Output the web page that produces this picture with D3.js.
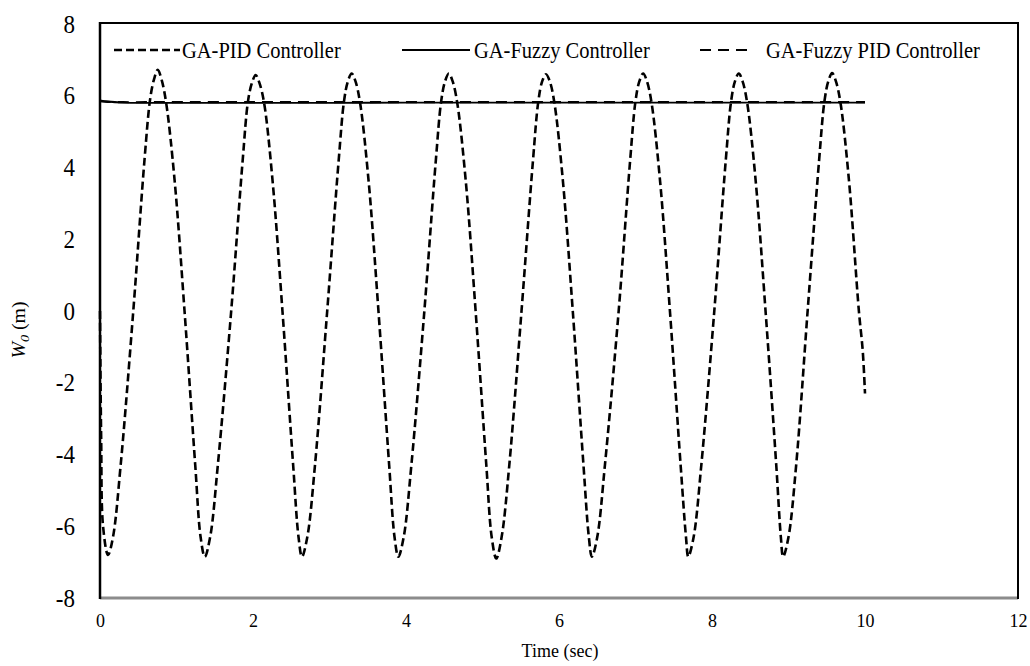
<!DOCTYPE html>
<html><head><meta charset="utf-8">
<script src="https://cdn.jsdelivr.net/npm/d3@7"></script>
<style>body{margin:0;background:#fff}svg{display:block}svg text{font-family:"Times New Roman","Liberation Serif",Times,serif !important;fill:#000}</style>
</head><body><svg id="c" width="1030" height="666"></svg>
<script>
// ---- data ----
const xTicks = [0, 2, 4, 6, 8, 10, 12];
const yTicks = [-8, -6, -4, -2, 0, 2, 4, 6, 8];
const seriesNames = ["GA-PID Controller", "GA-Fuzzy Controller", "GA-Fuzzy PID Controller"];
const pidTime = [0, 0.015, 0.04, 0.105,
  0.17, 0.27, 0.435, 0.585, 0.655, 0.705, 0.755, 0.805, 0.865, 0.975, 1.105, 1.245, 1.315,
  1.37, 1.44, 1.54, 1.715, 1.865, 1.935, 1.985, 2.035, 2.085, 2.145, 2.255, 2.385, 2.525, 2.595,
  2.64, 2.71, 2.81, 2.97, 3.12, 3.19, 3.24, 3.29, 3.34, 3.40, 3.51, 3.64, 3.78, 3.85,
  3.90, 3.97, 4.07, 4.24, 4.39, 4.46, 4.51, 4.56, 4.61, 4.67, 4.78, 4.91, 5.05, 5.12,
  5.18, 5.25, 5.35, 5.51, 5.66, 5.73, 5.78, 5.83, 5.88, 5.94, 6.05, 6.18, 6.32, 6.39,
  6.43, 6.50, 6.60, 6.78, 6.93, 7.00, 7.05, 7.10, 7.15, 7.21, 7.32, 7.45, 7.59, 7.66,
  7.69, 7.76, 7.86, 8.03, 8.18, 8.25, 8.30, 8.35, 8.40, 8.46, 8.57, 8.70, 8.84, 8.90,
  8.93, 9.00, 9.10, 9.25, 9.40, 9.47, 9.52, 9.57, 9.62, 9.68, 9.79, 9.92, 9.97, 10.0];
const pidValue = [0, -3.5, -6.0, -6.8,
  -6.3, -4.3, 0, 4.3, 5.9, 6.45, 6.72, 6.45, 5.8, 3.65, 0, -4.3, -6.3,
  -6.85, -6.3, -4.3, 0, 4.2, 5.85, 6.35, 6.58, 6.35, 5.8, 3.65, 0, -4.3, -6.3,
  -6.85, -6.3, -4.3, 0, 4.2, 5.85, 6.4, 6.62, 6.4, 5.8, 3.65, 0, -4.3, -6.3,
  -6.85, -6.3, -4.3, 0, 4.2, 5.85, 6.4, 6.62, 6.4, 5.8, 3.65, 0, -4.3, -6.3,
  -6.9, -6.3, -4.3, 0, 4.2, 5.85, 6.4, 6.6, 6.4, 5.8, 3.65, 0, -4.3, -6.3,
  -6.85, -6.3, -4.3, 0, 4.2, 5.85, 6.4, 6.62, 6.4, 5.8, 3.65, 0, -4.3, -6.3,
  -6.85, -6.3, -4.3, 0, 4.2, 5.85, 6.4, 6.62, 6.4, 5.8, 3.65, 0, -4.3, -6.3,
  -6.85, -6.3, -4.3, 0, 4.2, 5.85, 6.4, 6.63, 6.4, 5.8, 3.65, 0, -1.1, -2.3];
const fuzzyTime = [0, 0.1, 0.3, 0.6, 1, 2, 3, 4, 5, 6, 7, 8, 9, 10];
const fuzzyValue = [5.87, 5.84, 5.81, 5.80, 5.80, 5.80, 5.80, 5.81, 5.81, 5.81, 5.81, 5.81, 5.81, 5.81];
const fuzzyPidTime = [0, 0.1, 0.3, 0.6, 1, 2, 3, 4, 5, 6, 7, 8, 9, 10];
const fuzzyPidValue = [5.85, 5.83, 5.82, 5.82, 5.82, 5.82, 5.82, 5.82, 5.82, 5.82, 5.82, 5.82, 5.82, 5.82];

// ---- layout ----
const L = 100, R = 1018, T = 24, B = 598;
const FONT = '"Times New Roman","Liberation Serif",Times,serif';
const svg = d3.select("#c");
const x = d3.scaleLinear().domain([0, 12]).range([L, R]);
const y = d3.scaleLinear().domain([-8, 8]).range([B, T]);
const S = 1.1; // slight vertical text stretch seen in the picture
const fmt = d => String(d);

// axes (labels only)
const ya = svg.append("g").attr("transform", `translate(${L},0)`)
  .call(d3.axisLeft(y).tickValues(yTicks).tickSize(0).tickPadding(25).tickFormat(fmt))
  .attr("font-family", FONT);
ya.select(".domain").remove();
ya.selectAll("text").attr("font-size", 23).style("font-family", FONT)
  .attr("transform", `scale(1,${S})`);
const xa = svg.append("g").attr("transform", `translate(0,${B})`)
  .call(d3.axisBottom(x).tickValues(xTicks).tickSize(0).tickPadding(14).tickFormat(fmt))
  .attr("font-family", FONT);
xa.select(".domain").remove();
xa.selectAll("text").attr("font-size", 18).style("font-family", FONT)
  .attr("transform", `scale(1,${S})`);

// frame
svg.append("line").attr("x1", L).attr("x2", R).attr("y1", B).attr("y2", B).attr("stroke", "#8c8c8c").attr("stroke-width", 3);
svg.append("line").attr("x1", L).attr("x2", R).attr("y1", T - 1).attr("y2", T - 1).attr("stroke", "#000").attr("stroke-width", 2);
svg.append("line").attr("x1", L).attr("x2", L).attr("y1", T - 2).attr("y2", B + 1).attr("stroke", "#000").attr("stroke-width", 2.5);
svg.append("line").attr("x1", R).attr("x2", R).attr("y1", T - 2).attr("y2", B + 1).attr("stroke", "#000").attr("stroke-width", 2);

// series
const line = d3.line().x(d => x(d[0])).y(d => y(d[1])).curve(d3.curveCatmullRom.alpha(0.5));
const styles = [
  {dash: "8,4", w: 2.6},
  {dash: null, w: 1.8},
  {dash: "11,7", w: 2.2}
];
const data = [
  d3.zip(pidTime, pidValue),
  d3.zip(fuzzyTime, fuzzyValue),
  d3.zip(fuzzyPidTime, fuzzyPidValue)
];
[1, 2, 0].forEach(i => {
  svg.append("path").datum(data[i]).attr("d", line).attr("fill", "none")
    .attr("stroke", "#000").attr("stroke-width", styles[i].w)
    .attr("stroke-dasharray", styles[i].dash);
});

// legend
const legX = [[114, 180, 182], [402, 470, 474], [700, 750, 766]];
const legY = 50;
seriesNames.forEach((n, i) => {
  svg.append("line").attr("x1", legX[i][0]).attr("x2", legX[i][1]).attr("y1", legY).attr("y2", legY)
    .attr("stroke", "#000").attr("stroke-width", styles[i].w).attr("stroke-dasharray", styles[i].dash);
  svg.append("text").attr("transform", `translate(${legX[i][2]},${legY}) scale(1,${S})`)
    .style("font-family", FONT).attr("dy", "0.35em").attr("font-size", 20.5).text(n);
});

// axis titles
svg.append("text").attr("transform", `translate(${(L + R) / 2 + 1},650) scale(1,${S})`)
  .style("font-family", FONT).attr("text-anchor", "middle").attr("dy", "0.35em").attr("font-size", 18).text("Time (sec)");
const yt = svg.append("text").attr("transform", `translate(25,330) rotate(-90) scale(${S},1)`)
  .style("font-family", FONT).attr("text-anchor", "middle").attr("font-size", 18);
yt.append("tspan").attr("font-style", "italic").text("W");
yt.append("tspan").attr("font-style", "italic").attr("font-size", 13).attr("dy", 4).text("0");
yt.append("tspan").attr("dy", -4).text(" (m)");
</script></body></html>
